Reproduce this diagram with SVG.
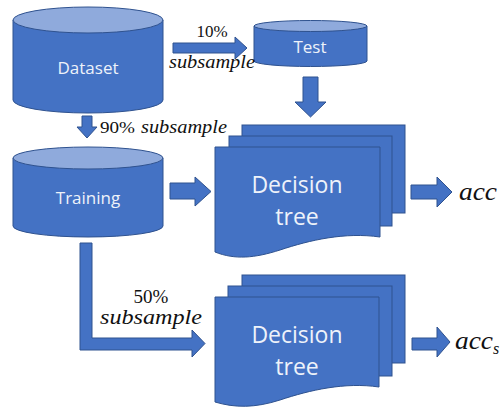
<svg xmlns="http://www.w3.org/2000/svg" width="503" height="407" viewBox="0 0 503 407">
<style>
.sh{fill:#4472C4;stroke:#2F528F;stroke-width:1}
.top{fill:#8FAADC;stroke:#2F528F;stroke-width:1}
.lbl{font-family:"Open Sans","Noto Sans",sans-serif;fill:#EEF2FA;text-anchor:middle}
.m{font-family:"Liberation Serif",serif;font-style:italic;fill:#111}
.n{font-family:"Liberation Serif",serif;fill:#111}
</style>
<rect width="503" height="407" fill="#fff"/>
<g id="dataset">
<path class="sh" d="M13,20 V100 A75,13 0 0 0 163,100 V20 Z"/>
<ellipse class="top" cx="88" cy="20" rx="75" ry="13"/>
<text class="lbl" x="88" y="74" font-size="17">Dataset</text>
</g>
<g id="test">
<path class="sh" d="M254,26 V61 A56.5,5.5 0 0 0 367,61 V26 Z"/>
<ellipse class="top" cx="310.5" cy="26" rx="56.5" ry="5.5"/>
<text class="lbl" x="310" y="53" font-size="17">Test</text>
</g>
<g id="training">
<path class="sh" d="M13,158 V226 A75,11 0 0 0 163,226 V158 Z"/>
<ellipse class="top" cx="88" cy="158" rx="75" ry="11"/>
<text class="lbl" x="88" y="204" font-size="17">Training</text>
</g>
<g id="tree1">
<rect class="sh" x="242" y="125" width="163" height="88"/>
<rect class="sh" x="229" y="136" width="163" height="90"/>
<path class="sh" d="M215,147 H380 V237 C345,232 310,240 280,250 C255,258 235,260 215,252 Z"/>
<text class="lbl" x="297" y="193" font-size="23">Decision</text>
<text class="lbl" x="297" y="225" font-size="23">tree</text>
</g>
<g id="tree2">
<rect class="sh" x="242" y="275" width="163" height="88"/>
<rect class="sh" x="228" y="286" width="164" height="90"/>
<path class="sh" d="M215,297 H379 V387 C345,382 310,390 280,400 C255,408 235,408 215,402 Z"/>
<text class="lbl" x="297" y="343" font-size="23">Decision</text>
<text class="lbl" x="297" y="375" font-size="23">tree</text>
</g>
<g id="connectors">
<path class="sh" d="M173,43 H235 V37 L247,48 L235,59 V53 H173 Z"/>
<path class="sh" d="M303,77 H318 V102 H326 L310.5,117 L295,102 H303 Z"/>
<path class="sh" d="M82,116 H92 V127 H97 L87,138 L77,127 H82 Z"/>
<path class="sh" d="M170,183 H195 V177 L211,191.5 L195,206 V199 H170 Z"/>
<path class="sh" d="M411,185 H437 V177 L452,192 L437,207 V199 H411 Z"/>
<path class="sh" d="M80,243 H92 V338 H192 V330 L205,343.5 L192,357 V350 H80 Z"/>
<path class="sh" d="M412,338 H437 V327 L450,342 L437,357 V350 H412 Z"/>
</g>
<text class="n" x="212" y="37" font-size="17" text-anchor="middle">10%</text>
<text class="m" x="169" y="68" font-size="18" textLength="86" lengthAdjust="spacingAndGlyphs">subsample</text>
<text class="n" x="100" y="133" font-size="17" textLength="35" lengthAdjust="spacingAndGlyphs">90%</text>
<text class="m" x="141" y="133" font-size="18" textLength="86" lengthAdjust="spacingAndGlyphs">subsample</text>
<text class="n" x="151" y="303" font-size="19" text-anchor="middle">50%</text>
<text class="m" x="100" y="324" font-size="20" textLength="102" lengthAdjust="spacingAndGlyphs">subsample</text>
<text class="m" x="459" y="200" font-size="26" textLength="38" lengthAdjust="spacingAndGlyphs">acc</text>
<text class="m" x="455" y="349" font-size="26"><tspan textLength="38" lengthAdjust="spacingAndGlyphs">acc</tspan><tspan font-size="16" dy="5">s</tspan></text>
</svg>
